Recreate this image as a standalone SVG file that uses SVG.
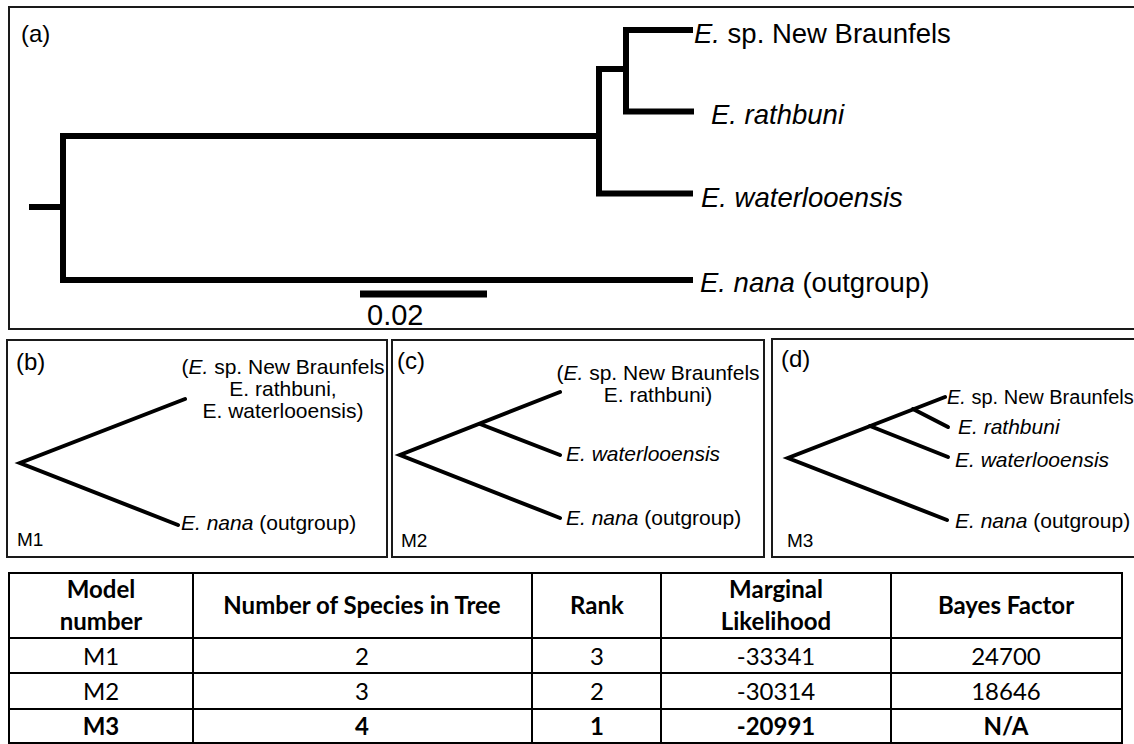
<svg xmlns="http://www.w3.org/2000/svg" width="1134" height="744" viewBox="0 0 1134 744">
<style>
.frame{fill:none;stroke:#1a1a1a;stroke-width:2}
.treeA{fill:none;stroke:#000;stroke-width:6;stroke-linejoin:miter;stroke-linecap:butt}
.tree{fill:none;stroke:#000;stroke-width:4;stroke-linejoin:miter;stroke-linecap:round}
.lab{font-family:"Liberation Sans",Arial,sans-serif;fill:#000}
.la{font-size:27.5px}
.ls{font-size:21px}
.pl{font-size:24px}
.it{font-style:italic}
.tb{font-family:Lato,"Open Sans",sans-serif;font-size:24px;fill:#000;text-anchor:middle}
.b{font-weight:bold}
.grid{stroke:#000;stroke-width:2;fill:none}
</style>
<rect width="1134" height="744" fill="#fff"/>

<g id="panel-a">
<rect class="frame" x="9" y="7" width="1140" height="322"/>
<text class="lab pl" x="21" y="42" font-size="25">(a)</text>
<text class="lab la" x="694" y="43"><tspan class="it">E.</tspan> sp. New Braunfels</text>
<text class="lab la it" x="711" y="124">E. rathbuni</text>
<text class="lab la it" x="701" y="207">E. waterlooensis</text>
<text class="lab la" x="700" y="292"><tspan class="it">E. nana</tspan> (outgroup)</text>
<line x1="360" y1="294" x2="487" y2="294" stroke="#000" stroke-width="7"/>
<text class="lab" x="367" y="325" font-size="29">0.02</text>
</g>

<g id="panel-b">
<rect class="frame" x="7" y="340" width="380" height="217"/>
<text class="lab pl" x="16" y="370">(b)</text>
<text class="lab ls" x="283" y="374" text-anchor="middle">(<tspan class="it">E.</tspan> sp. New Braunfels</text>
<text class="lab ls" x="283" y="396" text-anchor="middle">E. rathbuni,</text>
<text class="lab ls" x="283" y="418" text-anchor="middle">E. waterlooensis)</text>
<text class="lab ls" x="181" y="530"><tspan class="it">E. nana</tspan> (outgroup)</text>
<text class="lab" x="17" y="546" font-size="19">M1</text>
</g>

<g id="panel-c">
<rect class="frame" x="392" y="340" width="372" height="217"/>
<text class="lab pl" x="397" y="369">(c)</text>
<text class="lab ls" x="658" y="380" text-anchor="middle">(<tspan class="it">E.</tspan> sp. New Braunfels</text>
<text class="lab ls" x="658" y="402" text-anchor="middle">E. rathbuni)</text>
<text class="lab ls it" x="566" y="461">E. waterlooensis</text>
<text class="lab ls" x="566" y="525"><tspan class="it">E. nana</tspan> (outgroup)</text>
<text class="lab" x="401" y="547" font-size="19">M2</text>
</g>

<g id="panel-d">
<rect class="frame" x="772" y="339" width="370" height="218"/>
<text class="lab pl" x="781" y="367">(d)</text>
<text class="lab" x="947" y="404" font-size="20"><tspan class="it">E.</tspan> sp. New Braunfels</text>
<text class="lab ls it" x="958" y="434">E. rathbuni</text>
<text class="lab ls it" x="955" y="467">E. waterlooensis</text>
<text class="lab ls" x="955" y="528"><tspan class="it">E. nana</tspan> (outgroup)</text>
<text class="lab" x="787" y="547" font-size="19">M3</text>
</g>

<g id="connectors">
<path class="treeA" d="M29,207 H63"/>
<path class="treeA" d="M599,136 H63 V280 H693"/>
<path class="treeA" d="M626,69 H599 V193.5 H693"/>
<path class="treeA" d="M693,30 H626 V111.5 H694"/>
<path class="tree" d="M185,399 L20,463 L178,525"/>
<path class="tree" d="M560,392 L400,455 L560,518"/>
<path class="tree" d="M480,424 L560,455"/>
<path class="tree" d="M945,397 L788,458 L947,520"/>
<path class="tree" d="M870,426 L948,457"/>
<path class="tree" d="M913,409 L948,427"/>
</g>

<g id="table">
<rect class="grid" x="9" y="573" width="1113" height="170"/>
<line class="grid" x1="9" y1="638" x2="1122" y2="638"/>
<line class="grid" x1="9" y1="673" x2="1122" y2="673"/>
<line class="grid" x1="9" y1="709" x2="1122" y2="709"/>
<line class="grid" x1="193" y1="573" x2="193" y2="743"/>
<line class="grid" x1="532" y1="573" x2="532" y2="743"/>
<line class="grid" x1="661" y1="573" x2="661" y2="743"/>
<line class="grid" x1="891" y1="573" x2="891" y2="743"/>
<text class="tb b" x="101" y="598">Model</text>
<text class="tb b" x="101" y="630">number</text>
<text class="tb b" x="362" y="614">Number of Species in Tree</text>
<text class="tb b" x="597" y="614">Rank</text>
<text class="tb b" x="776" y="598">Marginal</text>
<text class="tb b" x="776" y="630">Likelihood</text>
<text class="tb b" x="1006" y="614">Bayes Factor</text>
<text class="tb" x="101" y="665">M1</text>
<text class="tb" x="362" y="665">2</text>
<text class="tb" x="597" y="665">3</text>
<text class="tb" x="776" y="665">-33341</text>
<text class="tb" x="1006" y="665">24700</text>
<text class="tb" x="101" y="700">M2</text>
<text class="tb" x="362" y="700">3</text>
<text class="tb" x="597" y="700">2</text>
<text class="tb" x="776" y="700">-30314</text>
<text class="tb" x="1006" y="700">18646</text>
<text class="tb b" x="101" y="735">M3</text>
<text class="tb b" x="362" y="735">4</text>
<text class="tb b" x="597" y="735">1</text>
<text class="tb b" x="776" y="735">-20991</text>
<text class="tb b" x="1006" y="735">N/A</text>
</g>
</svg>
